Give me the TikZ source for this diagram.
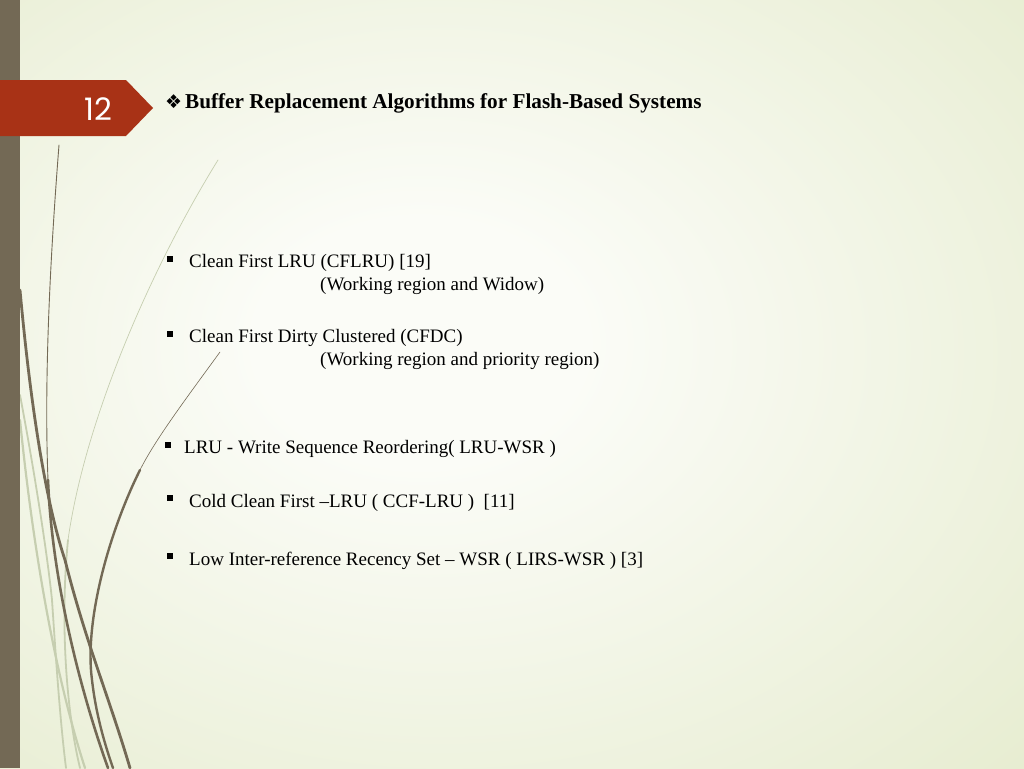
\documentclass[tikz,border=0pt]{standalone}
\usepackage{fontspec}
\setmainfont{Liberation Serif}
\newfontfamily\symfont{DejaVu Sans}
\newfontfamily\numfont{Poppins}
\definecolor{cin}{RGB}{251,252,247}
\definecolor{cout}{RGB}{222,230,192}
\definecolor{stripc}{RGB}{115,105,85}
\definecolor{tagc}{RGB}{168,50,22}
\definecolor{palec}{RGB}{198,206,176}
\pgfdeclareradialshading{bgshade}{\pgfpoint{-5bp}{3bp}}{color(0bp)=(cin); color(8bp)=(cin); color(52bp)=(cout); color(80bp)=(cout)}
\tikzset{
  darkline/.style={draw=stripc, line cap=round},
  paleline/.style={draw=palec, line cap=round},
  body/.style={anchor=base west, inner sep=0pt, font=\fontsize{19}{22}\selectfont, text=black},
  bul/.style={fill=black},
}
\begin{document}
\begin{tikzpicture}[x=1pt,y=-1pt]
\useasboundingbox (0,0) rectangle (1024,768);
\shade[shading=bgshade] (0,0) rectangle (1024,768);
% pale decorative lines
\draw[paleline, line width=0.7pt] (218,160) .. controls (150,270) and (85,420) .. (68,540);
\draw[paleline, line width=1.8pt] (68,540) .. controls (60,620) and (66,710) .. (80,768);
\draw[paleline, line width=2.2pt] (20,420) .. controls (30,520) and (50,660) .. (85,768);
\draw[paleline, line width=1.8pt] (20,395) .. controls (36,480) and (48,560) .. (52,600) .. controls (56,660) and (60,720) .. (66,768);
% strip
\fill[stripc] (0,0) rectangle (20,768);
% dark decorative lines
\draw[darkline, line width=0.9pt] (59,145) .. controls (50,260) and (44,380) .. (48,480);
\draw[darkline, line width=2.6pt] (48,480) .. controls (52,580) and (80,690) .. (108,768);
\draw[darkline, line width=2.8pt] (20,290) .. controls (30,400) and (45,500) .. (65,560) .. controls (85,640) and (110,700) .. (130,768);
\draw[darkline, line width=0.6pt] (220,352) .. controls (185,400) and (155,440) .. (140,470);
\draw[darkline, line width=2.4pt] (140,470) .. controls (110,530) and (84,620) .. (92,680) .. controls (96,715) and (105,745) .. (113,768);
% red tag
\fill[tagc] (0,80) -- (126,80) -- (153,108) -- (126,136) -- (0,136) -- cycle;
\node[text=white, inner sep=0pt, font=\numfont\fontsize{31}{33}\selectfont] (num) at (98,109) {12};
% title
\node[anchor=base west, inner sep=0pt, font=\symfont\fontsize{19}{22}\selectfont] (tsym) at (165,108) {❖};
\node[anchor=base west, inner sep=0pt, font=\bfseries\fontsize{21.2}{24}\selectfont] (title) at (185,108) {Buffer Replacement Algorithms for Flash-Based Systems};
% bullets
\fill[bul] (167,256) rectangle ++(6,6);
\fill[bul] (167,331) rectangle ++(6,6);
\fill[bul] (165,442) rectangle ++(6,6);
\fill[bul] (167,495) rectangle ++(6,6);
\fill[bul] (167,553) rectangle ++(6,6);
% items
\node[body] (i1) at (189,267) {Clean First LRU (CFLRU) [19]};
\node[body] (i1b) at (320,290) {(Working region and Widow)};
\node[body] (i2) at (189,342) {Clean First Dirty Clustered (CFDC)};
\node[body] (i2b) at (320,365) {(Working region and priority region)};
\node[body] (i3) at (184,453) {LRU - Write Sequence Reordering( LRU-WSR )};
\node[body] (i4) at (189,507) {Cold Clean First –LRU ( CCF-LRU ) \ [11]};
\node[body] (i5) at (189,565) {Low Inter-reference Recency Set – WSR ( LIRS-WSR ) [3]};
\end{tikzpicture}
\end{document}
